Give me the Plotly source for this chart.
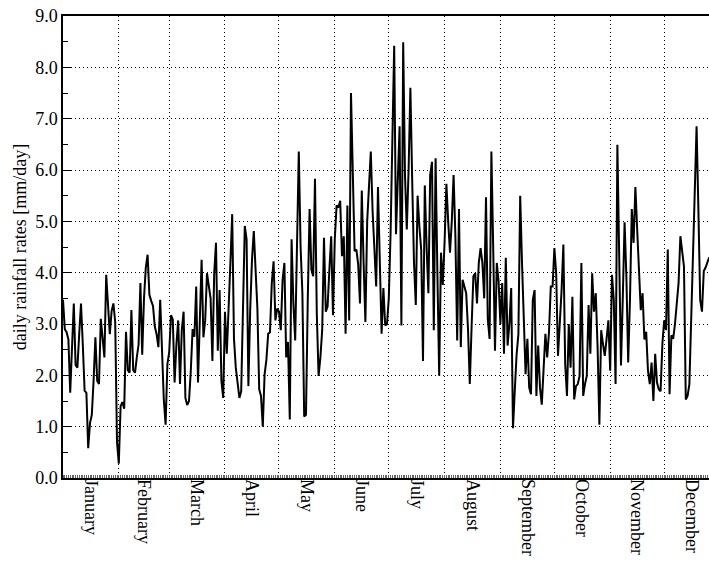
import numpy as np
import plotly.graph_objects as go

months = ["January", "February", "March", "April", "May", "June", "July",
          "August", "September", "October", "November", "December"]
month_days = [31, 28, 31, 30, 31, 30, 31, 31, 30, 31, 30, 31]

jan = [3.47, 2.9, 2.84, 2.7, 1.66, 2.5, 3.4, 2.2, 2.15, 2.8, 3.4, 2.6, 1.7, 1.66, 0.58, 1.07,
       1.23, 1.9, 2.74, 1.89, 1.83, 3.1, 2.7, 2.35, 3.96, 3.3, 2.8, 3.25, 3.4, 3.04, 0.7]
feb = [0.28, 1.4, 1.48, 1.35, 2.85, 2.1, 2.05, 3.27, 2.1, 2.05, 2.35, 2.6, 3.8, 2.4, 3.5, 4.1,
       4.35, 3.57, 3.45, 3.35, 2.95, 2.8, 2.55, 3.47, 2.5, 1.53, 1.04, 2.22]
mar = [2.45, 3.17, 3.09, 1.86, 2.6, 3.07, 1.83, 2.88, 3.24, 1.56, 1.42, 1.5, 2.09, 2.9, 2.75,
       3.73, 1.86, 3.1, 4.25, 2.74, 3.07, 3.99, 3.75, 3.5, 2.28, 3.99, 4.58, 2.48, 3.66, 1.89, 1.56]
apr = [3.24, 2.42, 3.5, 4.19, 5.14, 2.71, 2.15, 1.85, 1.56, 1.69, 3.53, 4.91, 4.65, 1.79, 3.27,
       4.25, 4.81, 3.9, 3.3, 1.73, 1.6, 1.0, 2.02, 2.3, 2.81, 2.84, 3.8, 4.22, 3.07, 3.3]
may = [3.24, 2.88, 3.86, 4.19, 2.35, 2.65, 1.14, 4.65, 3.4, 2.68, 4.8, 6.36, 4.5, 3.6, 1.2, 1.23,
       3.5, 5.24, 4.06, 3.93, 5.83, 3.2, 1.99, 2.35, 2.88, 4.68, 3.24, 3.34, 4.06, 4.71, 3.17]
jun = [4.65, 5.31, 5.27, 5.4, 4.32, 4.71, 2.81, 5.31, 3.07, 7.5, 5.6, 4.42, 4.45, 4.16, 3.4, 5.6,
       4.2, 3.04, 5.0, 5.83, 6.36, 5.2, 4.52, 3.73, 5.67, 4.0, 2.81, 3.7, 2.97, 3.0]
jul = [3.5, 4.78, 6.5, 8.42, 4.75, 6.06, 6.85, 2.97, 8.49, 5.9, 4.84, 6.0, 7.6, 5.8, 4.2, 3.37,
       5.5, 4.9, 4.45, 2.28, 5.7, 4.5, 3.6, 5.9, 6.16, 2.88, 6.23, 4.0, 1.99, 4.39, 3.76]
aug = [4.6, 5.73, 5.0, 4.39, 5.0, 5.9, 4.71, 2.68, 5.24, 2.55, 3.86, 3.7, 3.6, 2.91, 1.83, 2.94,
       3.93, 3.99, 3.4, 4.19, 4.48, 4.19, 3.5, 5.47, 3.1, 2.71, 6.36, 4.5, 2.48, 4.19, 3.83]
sep = [3.0, 3.8, 2.42, 4.29, 2.58, 3.0, 3.7, 0.97, 1.7, 2.4, 2.8, 5.5, 4.2, 3.0, 2.02, 2.71,
       1.76, 1.63, 3.47, 3.66, 1.6, 2.58, 1.76, 1.43, 2.2, 2.81, 2.35, 2.84, 3.73, 3.73]
oct_ = [4.48, 3.99, 2.38, 3.0, 3.66, 4.55, 2.22, 1.6, 3.0, 2.15, 3.53, 1.53, 1.79, 1.83, 1.99,
        4.19, 1.6, 1.83, 1.99, 3.37, 2.42, 3.99, 3.24, 3.6, 2.55, 1.04, 2.88, 2.61, 2.38, 2.71, 3.07]
nov = [2.09, 3.96, 3.47, 1.83, 6.49, 4.12, 2.19, 3.5, 4.98, 3.93, 2.25, 3.47, 5.24, 4.58, 5.67,
       4.84, 4.19, 3.27, 3.6, 2.7, 2.85, 2.09, 1.83, 2.25, 1.5, 2.42, 1.86, 1.73, 1.69, 2.61]
dec = [3.07, 2.88, 4.45, 1.63, 2.78, 2.71, 3.0, 3.4, 3.8, 4.71, 4.4, 4.12, 1.53, 1.6, 1.83, 3.2,
       4.58, 5.7, 6.85, 5.24, 3.47, 3.24, 4.03, 4.1, 4.22, 4.3]

rain = jan + feb + mar + apr + may + jun + jul + aug + sep + oct_ + nov + dec
day = np.arange(len(rain))

bounds = np.cumsum([0] + month_days)
mids = (bounds[:-1] + bounds[1:]) / 2.0

FONT = "Liberation Serif, Times New Roman, serif"
xr = [0, 358.9]

fig = go.Figure()
fig.add_trace(go.Scatter(x=day, y=rain, mode="lines",
                         line=dict(color="black", width=2), showlegend=False,
                         hoverinfo="skip"))
fig.add_trace(go.Scatter(x=[mids[0]], y=[0], xaxis="x2", mode="markers",
                         marker=dict(opacity=0), showlegend=False, hoverinfo="skip"))

fig.update_layout(
    width=709, height=561,
    margin=dict(l=63, r=0, t=16, b=83),
    paper_bgcolor="white", plot_bgcolor="white",
    font=dict(family=FONT, size=18, color="black"),
    showlegend=False,
    xaxis=dict(range=xr, tickmode="array", tickvals=bounds[1:-1].tolist(),
               showticklabels=False, ticks="",
               showgrid=True, gridcolor="black", gridwidth=1, griddash="1px,3px",
               showline=True, linecolor="black", linewidth=1.5, mirror=True,
               zeroline=False,
               minor=dict(ticks="inside", ticklen=3, tick0=0, dtick=1,
                          tickcolor="#666", tickwidth=1, showgrid=False)),
    xaxis2=dict(range=xr, overlaying="x", anchor="y", side="bottom",
                tickmode="array", tickvals=mids.tolist(), ticktext=months,
                tickangle=90, ticks="", showgrid=False, showline=False,
                zeroline=False, tickfont=dict(family=FONT, size=18, color="black")),
    yaxis=dict(range=[0, 9], tickmode="array", tickvals=list(range(10)),
               tickformat=".1f", ticks="inside", ticklen=8, tickcolor="black",
               showgrid=True, gridcolor="black", gridwidth=1, griddash="1px,3px",
               showline=True, linecolor="black", linewidth=1.5,
               zeroline=False,
               minor=dict(ticks="inside", ticklen=5, dtick=0.5, tick0=0,
                          tickcolor="black", showgrid=False),
               title=dict(text="daily rainfall rates [mm/day]", standoff=4,
                          font=dict(family=FONT, size=18, color="black"))),
)

fig.write_html("out.html")
